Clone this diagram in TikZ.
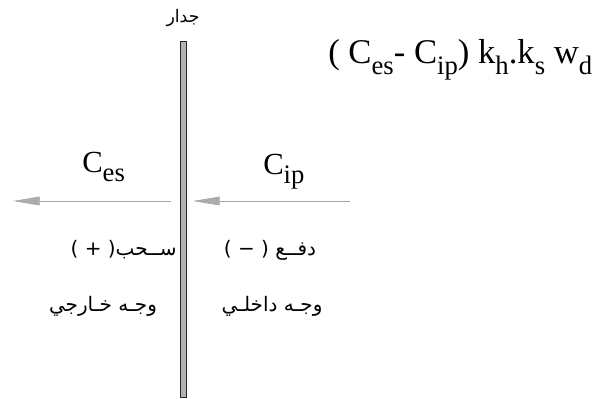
\documentclass[tikz,border=0pt]{standalone}
\usepackage{fontspec}
\setmainfont{Liberation Serif}
\newfontfamily\arabicfont[Script=Arabic]{DejaVu Sans}
\newfontfamily\signfont{DejaVu Sans}
\TeXXeTstate=1
\usetikzlibrary{arrows.meta}
\newcommand{\lowbig}[1]{\raisebox{-0.3em}{\fontsize{20}{21}\selectfont #1}}
\newcommand{\lowsmall}[1]{\raisebox{-0.3em}{\fontsize{20}{21}\selectfont #1}}

\begin{document}
\begin{tikzpicture}[
  x=0.75pt, y=-0.75pt,
  wallbar/.style={draw=black!85, fill=gray!60, line width=0.6pt, minimum width=4.5pt, minimum height=267pt, inner sep=0pt},
  forceline/.style={draw=gray!70, line width=0.5pt, -{Triangle[length=20pt, width=6.5pt, fill=gray!65]}},
  arlabel/.style={font=\arabicfont\fontsize{15}{17}\selectfont, inner sep=0pt},
  cbig/.style={font=\fontsize{23}{26}\selectfont, inner sep=0pt},
  every node/.style={inner sep=0pt}
]
\useasboundingbox (0,0) rectangle (599,399);

\node[wallbar] (wall) at (183,219) {};
\node[arlabel, font=\arabicfont\fontsize{13}{15}\selectfont] (jidar) at (183,18) {\beginR جدار\endR};

\node[anchor=base west, font=\fontsize{26}{28}\selectfont] (formula) at (328,64) {( C\lowsmall{es}- C\lowsmall{ip}) k\lowsmall{h}.k\lowsmall{s} w\lowsmall{d}};

\node[cbig, anchor=base west] (ces) at (82,172) {C\lowbig{es}};
\node[cbig, anchor=base west] (cip) at (263,174) {C\lowbig{ip}};

\coordinate (esStart) at (171,201);
\coordinate (esTip) at (13,201);
\coordinate (ipStart) at (350,201);
\coordinate (ipTip) at (193,201);
\draw[forceline] (esStart) -- (esTip);
\draw[forceline] (ipStart) -- (ipTip);

\node[arlabel, anchor=base east] (pull) at (177,255) {\beginR ســحب\beginL{\signfont( + )}\endL\endR};
\node[arlabel, anchor=base] (push) at (270,255) {\beginR دفــع \beginL{\signfont( − )}\endL\endR};
\node[arlabel, anchor=base] (outer) at (103,311) {\beginR وجـه خـارجي\endR};
\node[arlabel, anchor=base] (inner) at (272,311) {\beginR وجـه داخلـي\endR};

\end{tikzpicture}
\end{document}
